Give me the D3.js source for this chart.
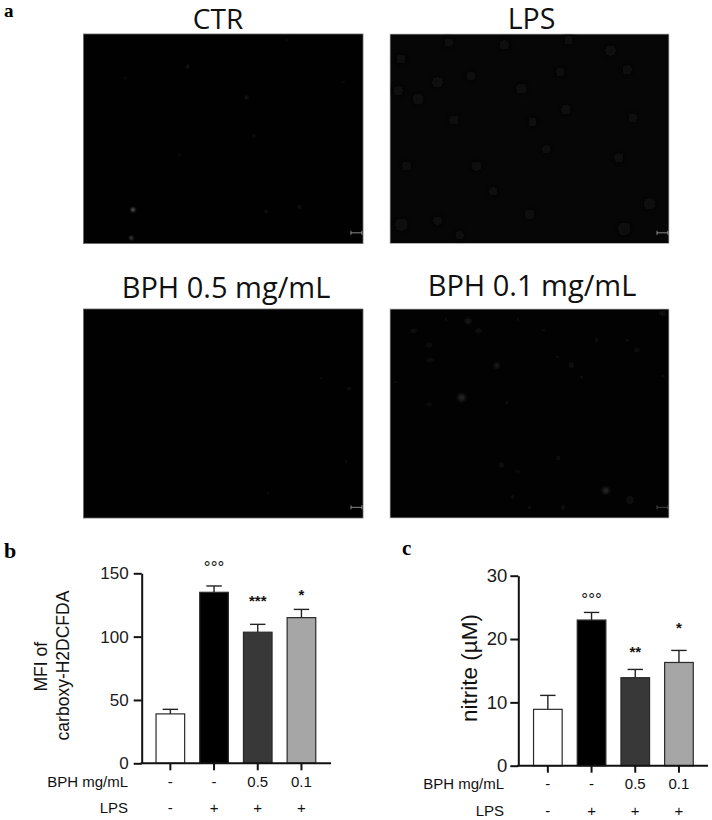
<!DOCTYPE html>
<html><head><meta charset="utf-8">
<script src="https://cdn.jsdelivr.net/npm/d3@7/dist/d3.min.js"></script>
<style>html,body{margin:0;padding:0;background:#fff}svg{display:block}</style>
</head><body><div id="c"></div>
<script>
// ---- data ----
const groups = ["CTR","LPS","BPH 0.5","BPH 0.1"];
const bphLabels = ["-","-","0.5","0.1"];
const lpsLabels = ["-","+","+","+"];
const mfiValues = [39,135,103.5,115];
const mfiUpper = [42.6,140,109.7,121.5];
const mfiMarks = ["","°°°","***","*"];
const mfiTicks = [0,50,100,150];
const nitriteValues = [8.9,23,13.9,16.3];
const nitriteUpper = [11.1,24.2,15.2,18.2];
const nitriteMarks = ["","°°°","**","*"];
const nitriteTicks = [0,10,20,30];
const barFills = ["#ffffff","#000000","#383838","#a6a6a6"];
const panelTitles = ["CTR","LPS","BPH 0.5 mg/mL","BPH 0.1 mg/mL"];
// fluorescent spots: [x %, y %, size, intensity %]
const spotsCTR = [[17.7,83.9,5,38],[17.1,97.4,4.4,30],[37.3,15.6,3.2,18],[58.3,30.3,3.2,18],[60.9,48.6,1.8,30],[65.4,84.7,3.2,15],[77.3,82.6,2.6,24],[14.7,21,1.8,20],[34.4,57.6,2.6,10],[93,22.8,2.6,10],[73.1,3,2.6,10],[24.7,3,1.8,10],[37.4,34,2,10],[37,72.9,2,8]];
const spotsLPS = [[4,12,14,2.7],[21,4,13,2.7],[41,5,14,2.7],[64,3,13,2.7],[79,8,15,3.1],[3,27,14,2.7],[10,31,15,3.1],[17,23,15,3.1],[29,20,13,3.1],[47,26,15,2.7],[61,18,13,2.7],[85,17,14,2.7],[23,41,14,2.7],[51,42,13,2.7],[63,36,14,2.7],[87,40,13,2.7],[6,63,14,2.7],[31,63,14,2.7],[56,55,13,2.7],[82,59,14,2.7],[4,91,16,4.4],[17,89,13,2.7],[37,75,13,2.7],[50,86,14,2.7],[84,93,17,3.1],[93,81,16,3.1],[25,96,13,2.7]];
const spots05 = [[85,33,3,4],[95,38,5,5],[71,51,2.5,7],[51,24,2.5,3],[60,22,2.5,3],[83,72,3,3],[94,73,4,4],[66,88,3,3],[80,90,3,3],[56,80,3,3],[72,65,3,3],[87,50,3,3]];
const spots01 = [[25.7,42.4,9,14],[38.2,27,7,10],[77.4,86.9,8,15],[14,17.2,5,9],[28,5.7,7,7],[31.7,10.4,6,8],[8.4,10.5,6,7],[14.4,24.4,6,7],[88.4,19.6,5,8],[97.7,2,7,7],[65.1,26.8,7,6],[68.7,32.7,4,6],[14,45.6,5,7],[40,74.6,7,6],[45.8,77.5,4,7],[86,91.4,10,5],[60.3,71.4,6,4],[41.8,44.8,4,6],[85,15,5,4],[55,10,4,4],[46,5,4,4],[74,15,6,4],[60,23,4,5],[2,35,4,4],[98,32,4,5],[50,95,6,4],[62,95,6,5],[44,90,5,4],[7,50,4,3],[20,5,4,4]];

const W = 712, H = 820;
const svg = d3.select("#c").append("svg").attr("width",W).attr("height",H).attr("viewBox",`0 0 ${W} ${H}`);
const defs = svg.append("defs");
[["soft",0.9],["mid",1.7],["softer",3]].forEach(([id,s])=>{
  defs.append("filter").attr("id",id).attr("x","-50%").attr("y","-50%").attr("width","200%").attr("height","200%")
    .append("feGaussianBlur").attr("stdDeviation",s);
});

const SANS = "'Liberation Sans',Arial,sans-serif";
const SERIF = "'Liberation Serif',serif";
const TITLE = "'Open Sans','Noto Sans',sans-serif";

// panel letters
[["a",4,17,19],["b",4,558,22],["c",402,555,21]].forEach(([t,x,y,s])=>{
  svg.append("text").text(t).attr("x",x).attr("y",y).attr("font-family",SERIF).attr("font-weight",700).attr("font-size",s).attr("fill","#000");
});

// ---- micrograph panels ----
const sizeScale = d3.scaleLinear().domain([0,10]).range([0,4]);
const greyScale = d3.scaleLinear().domain([0,100]).range(["#000000","#ffffff"]);
const panels = [
 {i:0,x:83.5,y:34,w:279.5,h:209.5,spots:spotsCTR,bg:"#010101",edge:"#666",f:"soft",tx:218,ty:29,ts:28,bar:"#aaa"},
 {i:1,x:390,y:34,w:279,h:209.5,spots:spotsLPS,bg:"#060606",edge:"#c4c4c4",f:"softer",tx:531.5,ty:29,ts:28.5,bar:"#aaa"},
 {i:2,x:83.5,y:309,w:279.5,h:209,spots:spots05,bg:"#010101",edge:"#666",f:"soft",tx:226,ty:298,ts:29,bar:"#aaa"},
 {i:3,x:390,y:309,w:279,h:209,spots:spots01,bg:"#020202",edge:"#c4c4c4",f:"mid",tx:532,ty:296,ts:29,bar:"#555"}
];
panels.forEach(p=>{
  const g = svg.append("g");
  const cid = "clip"+p.i;
  defs.append("clipPath").attr("id",cid).append("rect").attr("x",p.x).attr("y",p.y).attr("width",p.w).attr("height",p.h);
  g.append("rect").attr("x",p.x).attr("y",p.y).attr("width",p.w).attr("height",p.h).attr("fill",p.bg).attr("stroke",p.edge).attr("stroke-width",0.8);
  const sx = d3.scaleLinear().domain([0,100]).range([p.x,p.x+p.w]);
  const sy = d3.scaleLinear().domain([0,100]).range([p.y,p.y+p.h]);
  g.append("g").attr("clip-path",`url(#${cid})`).append("g").attr("filter",`url(#${p.f})`)
    .selectAll("circle").data(p.spots).join("circle")
    .attr("cx",d=>sx(d[0])).attr("cy",d=>sy(d[1])).attr("r",d=>sizeScale(d[2])).attr("fill",d=>greyScale(d[3]));
  // scale bar
  const bx0 = sx(95.7), bx1 = sx(99.6), by = sy(94.9);
  const bar = g.append("g").attr("stroke",p.bar).attr("stroke-width",0.8).attr("fill","none");
  bar.append("line").attr("x1",bx0).attr("x2",bx1).attr("y1",by).attr("y2",by);
  [bx0,bx1].forEach(x=>bar.append("line").attr("x1",x).attr("x2",x).attr("y1",by-2).attr("y2",by+2));
  svg.append("text").text(panelTitles[p.i]).attr("x",p.tx).attr("y",p.ty).attr("text-anchor","middle")
    .attr("font-family",TITLE).attr("font-size",p.ts).attr("fill","#111");
});

// ---- bar charts ----
function barChart(o){
  const g = svg.append("g").attr("font-family",SANS).attr("fill","#111");
  const y = d3.scaleLinear().domain([0,o.ticks[o.ticks.length-1]]).range([o.y0,o.y1]);
  const x = d3.scaleBand().domain(groups).range([o.xStart,o.xEnd]).paddingInner(0.345).paddingOuter(0.1725);
  const cx = d=>x(d)+x.bandwidth()/2;
  // bars
  g.selectAll("rect.bar").data(groups).join("rect").attr("class","bar")
    .attr("x",d=>x(d)).attr("width",x.bandwidth())
    .attr("y",(d,i)=>y(o.values[i])).attr("height",(d,i)=>y(0)-y(o.values[i]))
    .attr("fill",(d,i)=>barFills[i]).attr("stroke","#2a2a2a").attr("stroke-width",1.2);
  // error bars
  const eb = g.append("g").attr("stroke","#222").attr("stroke-width",1.4);
  eb.selectAll("line.v").data(groups).join("line").attr("class","v")
    .attr("x1",cx).attr("x2",cx).attr("y1",(d,i)=>y(o.values[i])).attr("y2",(d,i)=>y(o.upper[i]));
  eb.selectAll("line.c").data(groups).join("line").attr("class","c")
    .attr("x1",d=>cx(d)-7.7).attr("x2",d=>cx(d)+7.7).attr("y1",(d,i)=>y(o.upper[i])).attr("y2",(d,i)=>y(o.upper[i]));
  // axes
  const ay = g.append("g").attr("transform",`translate(${o.ax},0)`)
    .call(d3.axisLeft(y).tickValues(o.ticks).tickSize(8).tickSizeOuter(0).tickPadding(o.tickPad));
  ay.selectAll("path.domain,line").attr("stroke","#111").attr("stroke-width",2);
  ay.selectAll("text").attr("font-family",SANS).attr("font-size",o.tickFont).attr("fill","#1a1a1a");
  const ax = g.append("g").attr("transform",`translate(0,${o.y0})`)
    .call(d3.axisBottom(x).tickSize(7).tickSizeOuter(0).tickFormat(""));
  ax.select("path.domain").remove();
  ax.selectAll("line").attr("stroke","#111").attr("stroke-width",2);
  g.append("line").attr("x1",o.ax-1).attr("x2",o.xRight).attr("y1",o.y0).attr("y2",o.y0).attr("stroke","#111").attr("stroke-width",2);
  // marks
  g.selectAll("text.mark").data(groups).join("text").attr("class","mark")
    .text((d,i)=>o.marks[i]).attr("x",cx).attr("y",(d,i)=>o.markY[i]).attr("text-anchor","middle")
    .attr("font-size",(d,i)=>o.marks[i].startsWith("°")?17:15).attr("font-weight",(d,i)=>o.marks[i].startsWith("°")?400:700);
  // row labels
  const rows = [[bphLabels,o.row1,"BPH mg/mL"],[lpsLabels,o.row2,"LPS"]];
  rows.forEach(([labs,ry,name])=>{
    g.append("text").text(name).attr("x",o.rowRight).attr("y",ry).attr("text-anchor","end").attr("font-size",15);
    g.selectAll(null).data(groups).join("text").text((d,i)=>labs[i])
      .attr("x",cx).attr("y",ry).attr("text-anchor","middle").attr("font-size",15);
  });
  // y label
  o.ylab.forEach(l=>{
    g.append("text").text(l.t).attr("transform",`translate(${l.x},${l.y}) rotate(-90)`)
      .attr("text-anchor","middle").attr("font-size",l.s);
  });
}
barChart({values:mfiValues,upper:mfiUpper,marks:mfiMarks,ticks:mfiTicks,markY:[0,573,606,600],
  y0:763.3,y1:573.3,xStart:148.5,xEnd:323.3,ax:141.7,xRight:331,tickFont:17,tickPad:5,row1:786.5,row2:813,rowRight:128,
  ylab:[{t:"MFI of",x:47,y:666.7,s:17.5},{t:"carboxy-H2DCFDA",x:69,y:665.5,s:17.5}]});
barChart({values:nitriteValues,upper:nitriteUpper,marks:nitriteMarks,ticks:nitriteTicks,markY:[0,605,657,633],
  y0:765.7,y1:575.7,xStart:526,xEnd:700.8,ax:518.3,xRight:708,tickFont:18.5,tickPad:3,row1:789,row2:815.5,rowRight:504,
  ylab:[{t:"nitrite (µM)",x:477,y:668,s:22.5}]});
</script></body></html>
